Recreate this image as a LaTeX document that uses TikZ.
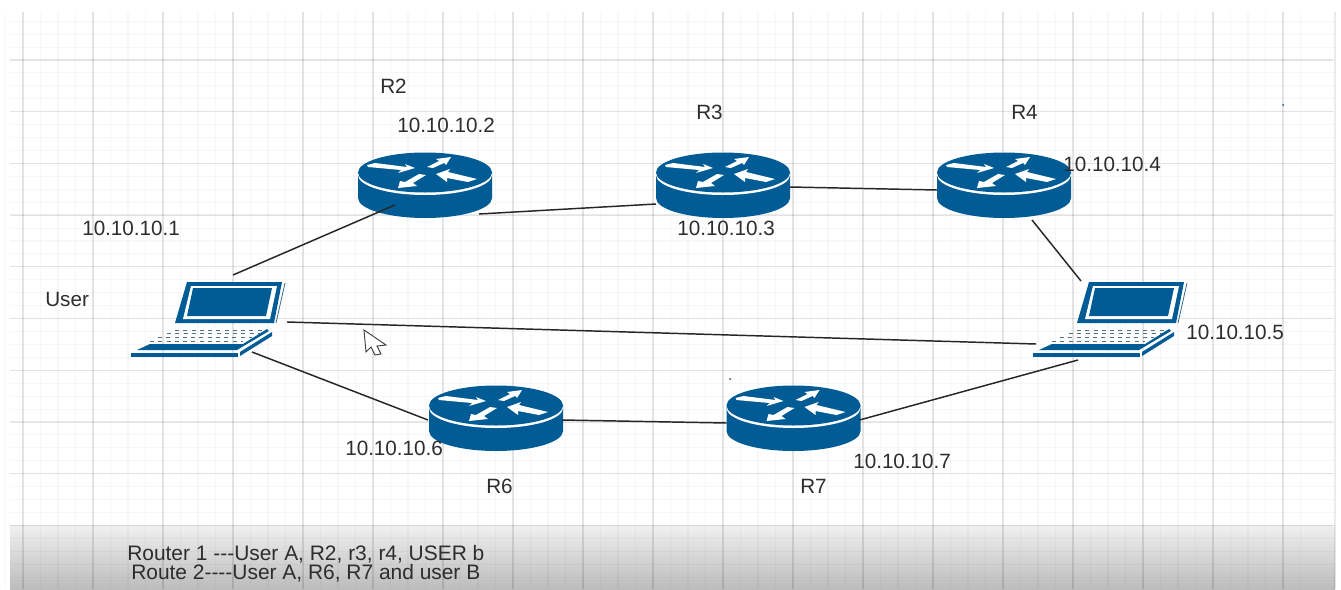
\documentclass[tikz,border=0pt]{standalone}
\usepackage{fontspec}
\setmainfont{Liberation Sans}
\definecolor{ciscoblue}{RGB}{1,92,150}
\definecolor{labelgray}{RGB}{45,45,45}
\definecolor{bandtop}{RGB}{240,240,240}
\definecolor{bandbottom}{RGB}{188,188,188}
\tikzset{
  iplabel/.style={anchor=west,inner sep=0pt,text=labelgray,font=\fontsize{15.5}{18}\selectfont},
  routelabel/.style={iplabel,font=\fontsize{15.7}{18}\selectfont},
  routerbox/.style={inner sep=0pt,minimum width=100.5pt,minimum height=49.5pt},
  laptopbox/.style={inner sep=0pt,minimum width=115.5pt,minimum height=58pt},
  link/.style={draw=black!85,line width=1.1pt},
  gridminor/.style={black,line width=0.8pt,opacity=0.03},
  gridmajor/.style={black,line width=1pt,opacity=0.08},
}
% router icon, name and centre
\newcommand{\routericon}[2]{
  \node (#1) [routerbox] at (#2) {};
  \begin{scope}[shift={(#2)}]
    \fill [ciscoblue] (-67,-13) -- (-67,13) arc [x radius=67,y radius=20,start angle=180,end angle=0] -- (67,-13) -- cycle;
    \fill [white] (-67,-13.5) arc [x radius=67,y radius=20,start angle=180,end angle=0] -- (67,-10) arc [x radius=67,y radius=20,start angle=0,end angle=180] -- cycle;
    \fill [ciscoblue] (0,-12.5) ellipse [x radius=67,y radius=20];
    \fill [white] (-58,-20) -- (-50,-22) -- (-18,-18) -- (-20,-21) -- (-10,-17) -- (-27,-12) -- (-24,-15) -- (-57,-18) -- cycle;
    \fill [white] (26,-28) -- (11,-26) -- (14,-24) -- (2,-18) -- (8,-17) -- (19,-22) -- (21,-20) -- cycle;
    \fill [white] (-27,3) -- (-25,-4) -- (-20,-3) -- (-6,-11) -- (1,-10) -- (-12,-2) -- (-8,1) -- cycle;
    \fill [white] (11,-11) -- (25,-16) -- (23,-13) -- (52,-6) -- (43,-3) -- (22,-7) -- (22,-3) -- cycle;
  \end{scope}
}
% laptop icon, name and centre
\newcommand{\laptopicon}[2]{
  \node (#1) [laptopbox] at (#2) {};
  \begin{scope}[shift={(#2)}]
    \fill [ciscoblue] (-21,-37) -- (74,-37) -- (66,4) -- (-33,4) -- cycle;
    \fill [white] (-17,-33) -- (69,-33) -- (62,0) -- (-25,0) -- cycle;
    \fill [ciscoblue] (-15,-31) -- (64,-31) -- (58,-3) -- (-21,-3) -- cycle;
    \draw [ciscoblue!60!gray,line width=0.6pt] (77,-36) -- (68,4);
    \fill [ciscoblue] (-77,34) -- (30,34) -- (30,38) -- (-77,38) -- cycle;
    \fill [ciscoblue] (32,33) -- (64,13) -- (64,17) -- (32,37) -- cycle;
    \fill [ciscoblue] (-71,31) -- (-58,25) -- (35,25) -- (59,10) -- (61,12) -- (29,31) -- cycle;
    \foreach \ya/\xa/\xb in {11/-33/57,14/-41/52,18/-50/44,22/-58/35}
      \draw [ciscoblue!40!gray,line width=0.7pt,dash pattern=on 3pt off 3.2pt] (\xa,\ya) -- (\xb,\ya);
  \end{scope}
}

\begin{document}
\begin{tikzpicture}[x=0.75pt,y=0.75pt,yscale=-1,xscale=1]
\useasboundingbox (0,0) rectangle (1341,589);
\fill [white] (0,0) rectangle (1341,589);

% Bottom band
\fill [top color=bandtop,bottom color=bandbottom,middle color=bandtop!50!bandbottom] (10,525) rectangle (1335,589);

% Grid
\foreach \i in {0,...,74}
  \draw [gridminor] ({23+17.5*\i-17.5},12) -- ({23+17.5*\i-17.5},589);
\foreach \i in {0,...,43}
  \draw [gridminor] (10,{21.2+12.93*\i}) -- (1335,{21.2+12.93*\i});
\foreach \i in {0,...,18}
  \draw [gridmajor] ({23+70*\i},12) -- ({23+70*\i},589);
\draw [gridmajor] (1335,12) -- (1335,589);
\foreach \i in {1,...,10}
  \draw [gridmajor] (10,{8.3+51.7*\i}) -- (1333,{8.3+51.7*\i});

% Routers and laptops
\routericon{rtrtwo}{425,185}
\routericon{rtrthree}{723,185}
\routericon{rtrfour}{1004,185}
\routericon{rtrsix}{496,418}
\routericon{rtrseven}{793.5,418}
\laptopicon{usera}{208,319}
\laptopicon{userb}{1110,319}

% Links
\draw [link] ([shift={(25,-44)}]usera.center) -- ([shift={(-30,20)}]rtrtwo.center);
\draw [link] ([shift={(54,29)}]rtrtwo.center) -- ([shift={(-67,19)}]rtrthree.center);
\draw [link] ([shift={(67,2)}]rtrthree.center) -- ([shift={(-67,5)}]rtrfour.center);
\draw [link] ([shift={(28,35)}]rtrfour.center) -- ([shift={(-29,-38)}]userb.center);
\draw [link] ([shift={(79,3)}]usera.center) -- ([shift={(-74,25)}]userb.center);
\draw [link] ([shift={(44,33)}]usera.center) -- ([shift={(-68,2)}]rtrsix.center);
\draw [link] ([shift={(66,2)}]rtrsix.center) -- ([shift={(-67,5)}]rtrseven.center);
\draw [link] ([shift={(66,2)}]rtrseven.center) -- ([shift={(-32,41)}]userb.center);

% Mouse pointer
\draw [fill=white,draw=black!75,line width=0.7pt] (364,330) -- (386,345) -- (377,346) -- (381,354) -- (375,355) -- (371,347) -- (366,352) -- cycle;
% Specks
\fill [ciscoblue] (1283,105) circle [radius=1];
\fill [ciscoblue] (730,379) circle [radius=1];

% Text Node
\node (iptwo) [iplabel] at (397,125) {10.10.10.2};
\node (ipone) [iplabel] at (82,228) {10.10.10.1};
\node (ipthree) [iplabel] at (677,228) {10.10.10.3};
\node (ipfour) [iplabel] at (1063,164) {10.10.10.4};
\node (ipfive) [iplabel] at (1186,332) {10.10.10.5};
\node (ipsix) [iplabel] at (345,448) {10.10.10.6};
\node (ipseven) [iplabel] at (853,461) {10.10.10.7};
\node (lbluser) [iplabel] at (45,299) {User};
\node (lbltwo) [iplabel] at (380,86) {R2};
\node (lblthree) [iplabel] at (696,112) {R3};
\node (lblfour) [iplabel] at (1011,112) {R4};
\node (lblsix) [iplabel] at (486,486) {R6};
\node (lblseven) [iplabel] at (800,486) {R7};
\node (routeone) [routelabel] at (127,554) {Router 1 -{}-{}-User A, R2, r3, r4, USER b};
\node (routetwo) [routelabel] at (131,573) {Route 2-{}-{}-{}-User A, R6, R7 and user B};

\end{tikzpicture}
\end{document}
